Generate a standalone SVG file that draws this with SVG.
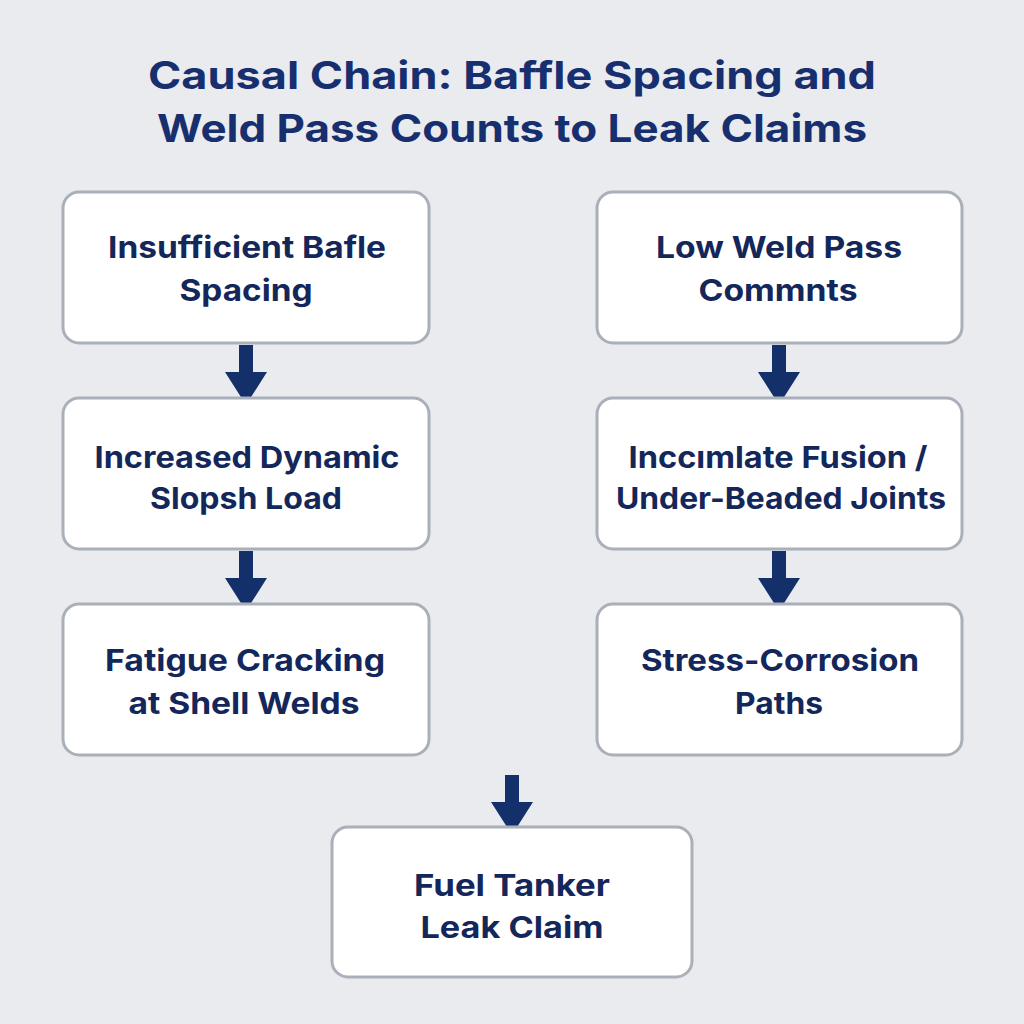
<svg xmlns="http://www.w3.org/2000/svg" width="1024" height="1024" viewBox="0 0 1024 1024">
<style>
.bg{fill:#e9ebee}
.title{font-family:Inter,"Noto Sans","Liberation Sans",sans-serif;font-weight:700;font-size:38px;fill:#172f6e;text-anchor:middle}
.box{fill:#ffffff;stroke:#a9b0ba;stroke-width:3}
.lbl{font-family:Inter,"Noto Sans","Liberation Sans",sans-serif;font-weight:700;font-size:30px;fill:#14275a;text-anchor:middle}
.arr{fill:#14306b}
</style>
<defs>
<path id="arrow" d="M-7,0 H7 V27 H21 L0,60 L-21,27 H-7 Z"/>
</defs>
<rect class="bg" x="0" y="0" width="1024" height="1024"/>
<text class="title" x="512" y="89" textLength="728" lengthAdjust="spacingAndGlyphs">Causal Chain: Baffle Spacing and</text>
<text class="title" x="512" y="142" textLength="710" lengthAdjust="spacingAndGlyphs">Weld Pass Counts to Leak Claims</text>
<g id="connectors">
<use href="#arrow" class="arr" x="246" y="345"/>
<use href="#arrow" class="arr" x="246" y="551"/>
<use href="#arrow" class="arr" x="779" y="345"/>
<use href="#arrow" class="arr" x="779" y="551"/>
<use href="#arrow" class="arr" x="512" y="775"/>
</g>
<g id="n1"><rect class="box" x="63" y="192" width="366" height="151" rx="16"/>
<text class="lbl" x="247" y="258" textLength="278" lengthAdjust="spacingAndGlyphs">Insufficient Bafle</text><text class="lbl" x="246" y="301" textLength="133" lengthAdjust="spacingAndGlyphs">Spacing</text></g>
<g id="n2"><rect class="box" x="63" y="398" width="366" height="151" rx="16"/>
<text class="lbl" x="247" y="468" textLength="305" lengthAdjust="spacingAndGlyphs">Increased Dynamic</text><text class="lbl" x="246" y="509" textLength="192" lengthAdjust="spacingAndGlyphs">Slopsh Load</text></g>
<g id="n3"><rect class="box" x="63" y="604" width="366" height="151" rx="16"/>
<text class="lbl" x="245" y="671" textLength="280" lengthAdjust="spacingAndGlyphs">Fatigue Cracking</text><text class="lbl" x="244" y="714" textLength="231" lengthAdjust="spacingAndGlyphs">at Shell Welds</text></g>
<g id="n4"><rect class="box" x="597" y="192" width="365" height="151" rx="16"/>
<text class="lbl" x="779" y="258" textLength="246" lengthAdjust="spacingAndGlyphs">Low Weld Pass</text><text class="lbl" x="778" y="301" textLength="159" lengthAdjust="spacingAndGlyphs">Commnts</text></g>
<g id="n5"><rect class="box" x="597" y="398" width="365" height="151" rx="16"/>
<text class="lbl" x="778" y="468" textLength="299" lengthAdjust="spacingAndGlyphs">Inccımlate Fusion /</text><text class="lbl" x="781" y="509" textLength="330" lengthAdjust="spacingAndGlyphs">Under-Beaded Joints</text></g>
<g id="n6"><rect class="box" x="597" y="604" width="365" height="151" rx="16"/>
<text class="lbl" x="780" y="671" textLength="278" lengthAdjust="spacingAndGlyphs">Stress-Corrosion</text><text class="lbl" x="779" y="714" textLength="88" lengthAdjust="spacingAndGlyphs">Paths</text></g>
<g id="n7"><rect class="box" x="332" y="827" width="360" height="150" rx="16"/>
<text class="lbl" x="512" y="896" textLength="196" lengthAdjust="spacingAndGlyphs">Fuel Tanker</text><text class="lbl" x="512" y="938" textLength="183" lengthAdjust="spacingAndGlyphs">Leak Claim</text></g>
</svg>
